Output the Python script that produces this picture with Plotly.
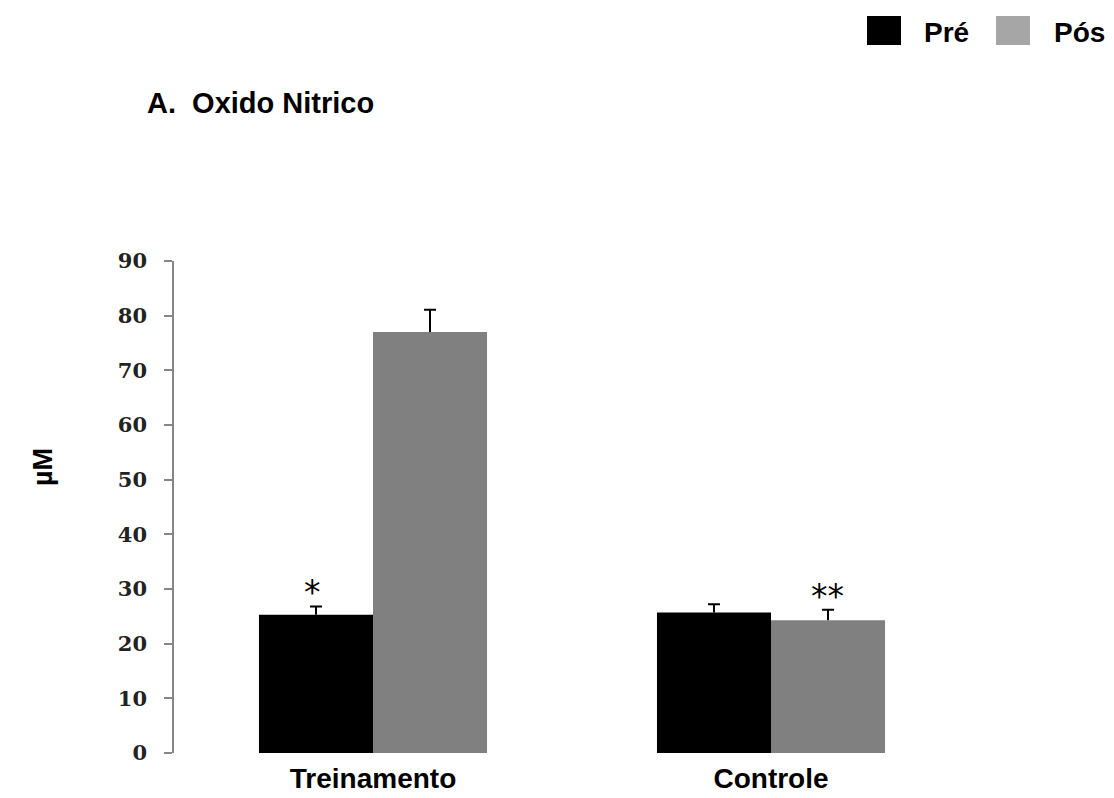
import plotly.graph_objects as go

categories = ["Treinamento", "Controle"]
pre_values = [25.3, 25.7]
pre_errors = [1.5, 1.5]
pos_values = [77.0, 24.3]
pos_errors = [4.1, 1.9]
y_ticks = [0, 10, 20, 30, 40, 50, 60, 70, 80, 90]

# page offset (browser default body margin) compensation
OFF = 8
W, H = 1114, 798
L, T = 174 - OFF, 261 - OFF
PW, PH = 796, 492
R, B = W - L - PW, H - T - PH


def paper(px, py):
    """convert reference pixel position to paper coords"""
    return (px - OFF - L) / PW, (T + PH - (py - OFF)) / PH


fig = go.Figure()

# bars with error stems (no caps)
fig.add_trace(go.Bar(
    x=categories, y=pre_values, name="Pré", offsetgroup="pre",
    marker=dict(color="#000000", line=dict(width=0)),
    error_y=dict(type="data", array=pre_errors, arrayminus=[0] * len(pre_errors),
                 symmetric=False, color="#000000", thickness=2, width=0),
))
fig.add_trace(go.Bar(
    x=categories, y=pos_values, name="Pós", offsetgroup="pos",
    marker=dict(color="#808080", line=dict(width=0)),
    error_y=dict(type="data", array=pos_errors, arrayminus=[0] * len(pos_errors),
                 symmetric=False, color="#000000", thickness=2, width=0),
))
# error caps only (transparent bars reaching mean + error)
for vals, errs, grp in [(pre_values, pre_errors, "pre"), (pos_values, pos_errors, "pos")]:
    fig.add_trace(go.Bar(
        x=categories, y=[v + e for v, e in zip(vals, errs)], offsetgroup=grp,
        marker=dict(color="rgba(0,0,0,0)", line=dict(width=0)), showlegend=False,
        hoverinfo="skip",
        error_y=dict(type="data", array=[0] * len(vals), arrayminus=[0] * len(vals),
                     symmetric=False, color="#000000", thickness=2, width=6),
    ))

# significance markers
fig.add_annotation(x=-0.153, y=pre_values[0] + pre_errors[0], xref="x", yref="y",
                   text="*", showarrow=False, yanchor="bottom", yshift=-8,
                   font=dict(family="DejaVu Sans", size=33, color="#000000"))
fig.add_annotation(x=1.143, y=pos_values[1] + pos_errors[1], xref="x", yref="y",
                   text="**", showarrow=False, yanchor="bottom", yshift=-8,
                   font=dict(family="DejaVu Sans", size=33, color="#000000"))

# title
tx, ty = paper(145, 103)
fig.add_annotation(x=tx, y=ty, xref="paper", yref="paper", xanchor="left", yanchor="middle",
                   text="<b>A.&nbsp;&nbsp;Oxido Nitrico</b>", showarrow=False,
                   font=dict(family="Liberation Sans", size=29, color="#000000"))

# y-axis title
mx, my = paper(43, 467)
fig.add_annotation(x=mx, y=my, xref="paper", yref="paper", xanchor="center", yanchor="middle",
                   text="<b>µM</b>", textangle=-90, showarrow=False,
                   font=dict(family="Liberation Sans", size=27, color="#000000"))

# legend with large square swatches
legend_items = [("Pré", "#000000", 867, 922), ("Pós", "#a6a6a6", 996, 1052)]
for label, color, sx, lx in legend_items:
    x0, y0 = paper(sx, 45)
    x1, y1 = paper(sx + 34, 16)
    fig.add_shape(type="rect", xref="paper", yref="paper", x0=x0, y0=y0, x1=x1, y1=y1,
                  fillcolor=color, line=dict(width=0))
    ax, ay = paper(lx, 32)
    fig.add_annotation(x=ax, y=ay, xref="paper", yref="paper", xanchor="left", yanchor="middle",
                       text="<b>" + label + "</b>", showarrow=False,
                       font=dict(family="Liberation Sans", size=28, color="#000000"))

fig.update_layout(
    width=W, height=H,
    margin=dict(l=L, r=R, t=T, b=B, autoexpand=False),
    plot_bgcolor="white", paper_bgcolor="white",
    barmode="group", bargap=0.427, bargroupgap=0,
    showlegend=False,
    xaxis=dict(
        range=[-0.5, 1.5], showline=False, showgrid=False, zeroline=False,
        ticks="", ticklabelstandoff=6,
        tickfont=dict(family="Liberation Sans", size=28, color="#000000", weight="bold"),
        tickvals=categories, ticktext=categories,
    ),
    yaxis=dict(
        range=[0, 90], tickvals=y_ticks, showgrid=False, zeroline=False,
        showline=True, linecolor="#868686", linewidth=1.5,
        ticks="outside", ticklen=8, tickcolor="#868686", tickwidth=1.5,
        ticklabelstandoff=13,
        tickfont=dict(family="DejaVu Serif", size=21, color="#222222", weight="bold"),
    ),
)

fig.write_html("out.html")
